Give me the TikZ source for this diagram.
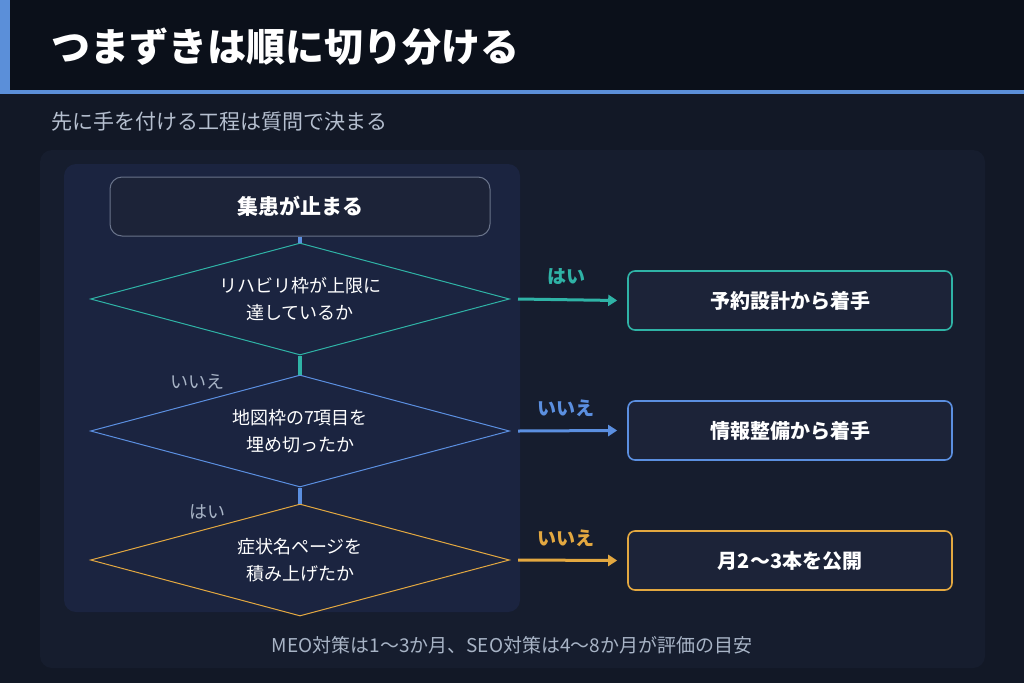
\documentclass[tikz,border=0pt]{standalone}
\usepackage{fontspec}
\setmainfont{Noto Sans CJK JP}
\usetikzlibrary{shapes.geometric,arrows.meta}
\definecolor{bgtop}{HTML}{0B101A}
\definecolor{bgmain}{HTML}{121826}
\definecolor{outerpanel}{HTML}{161D2E}
\definecolor{innerpanel}{HTML}{1B2440}
\definecolor{boxfill}{HTML}{1C2338}
\definecolor{accent}{HTML}{5B8FD9}
\definecolor{tealc}{HTML}{2FB3A6}
\definecolor{bluec}{HTML}{5B8FE0}
\definecolor{amberc}{HTML}{E3A840}
\definecolor{mutedc}{HTML}{A8B4C6}
\tikzset{
  decision/.style={diamond, draw=#1, line width=1pt, fill=innerpanel, minimum width=419pt, minimum height=112pt, aspect=3.74, inner sep=0pt, text=white, font=\fontsize{18}{27}\selectfont, align=center},
  result/.style={rectangle, rounded corners=7pt, draw=#1, line width=1.6pt, fill=boxfill, minimum width=324pt, minimum height=59pt, text=white, font=\bfseries\fontsize{20}{22}\selectfont},
  branch/.style={line width=3pt, draw=#1, -{Triangle[length=9pt,width=11pt]}},
  answer/.style={text=#1, font=\bfseries\fontsize{19}{20}\selectfont},
  sidenote/.style={text=mutedc, font=\fontsize{18}{20}\selectfont}
}
\begin{document}
\begin{tikzpicture}[x=1pt,y=-1pt]
  \useasboundingbox (0,0) rectangle (1024,683);
  \fill[bgmain] (0,0) rectangle (1024,683);
  \fill[bgtop] (0,0) rectangle (1024,91);
  \fill[accent] (0,0) rectangle (10,91);
  \fill[accent] (0,90) rectangle (1024,94);
  \node[anchor=west, text=white, font=\bfseries\fontsize{39}{42}\selectfont] (title) at (48,47) {つまずきは順に切り分ける};
  \node[anchor=west, text=mutedc!85!white, font=\fontsize{21}{24}\selectfont] (subtitle) at (48,122) {先に手を付ける工程は質問で決まる};

  \fill[outerpanel, rounded corners=12pt] (40,150) rectangle (985,668);
  \fill[innerpanel, rounded corners=12pt] (64,164) rectangle (520,612);

  \node[rectangle, rounded corners=12pt, draw=mutedc!55!innerpanel, line width=1pt, fill=boxfill, minimum width=380pt, minimum height=59pt, text=white, font=\bfseries\fontsize{21}{23}\selectfont] (start) at (300,206.5) {集患が止まる};

  \node[decision=tealc] (q1) at (300,299) {リハビリ枠が上限に\\達しているか};
  \node[decision=bluec] (q2) at (300,431) {地図枠の7項目を\\埋め切ったか};
  \node[decision=amberc] (q3) at (300,560) {症状名ページを\\積み上げたか};

  \draw[bluec, line width=4pt] (start.south) -- (q1.north);
  \draw[tealc, line width=4pt] (q1.south) -- (q2.north);
  \draw[bluec, line width=4pt] (q2.south) -- (q3.north);

  \node[sidenote] (no1) at (197,382) {いいえ};
  \node[sidenote] (yes2) at (207,512) {はい};

  \node[result=tealc] (r1) at (790,300.5) {予約設計から着手};
  \node[result=bluec] (r2) at (790,430.5) {情報整備から着手};
  \node[result=amberc] (r3) at (790,560.5) {月2〜3本を公開};

  \draw[branch=tealc] ([xshift=8pt]q1.east) -- ([xshift=-10pt]r1.west);
  \draw[branch=bluec] ([xshift=8pt]q2.east) -- ([xshift=-10pt]r2.west);
  \draw[branch=amberc] ([xshift=8pt]q3.east) -- ([xshift=-10pt]r3.west);

  \node[answer=tealc] (a1) at (566,277) {はい};
  \node[answer=bluec] (a2) at (566,408) {いいえ};
  \node[answer=amberc] (a3) at (566,538) {いいえ};

  \node[text=mutedc, font=\fontsize{19}{22}\selectfont] (footer) at (512,645) {MEO対策は1〜3か月、SEO対策は4〜8か月が評価の目安};
\end{tikzpicture}
\end{document}
